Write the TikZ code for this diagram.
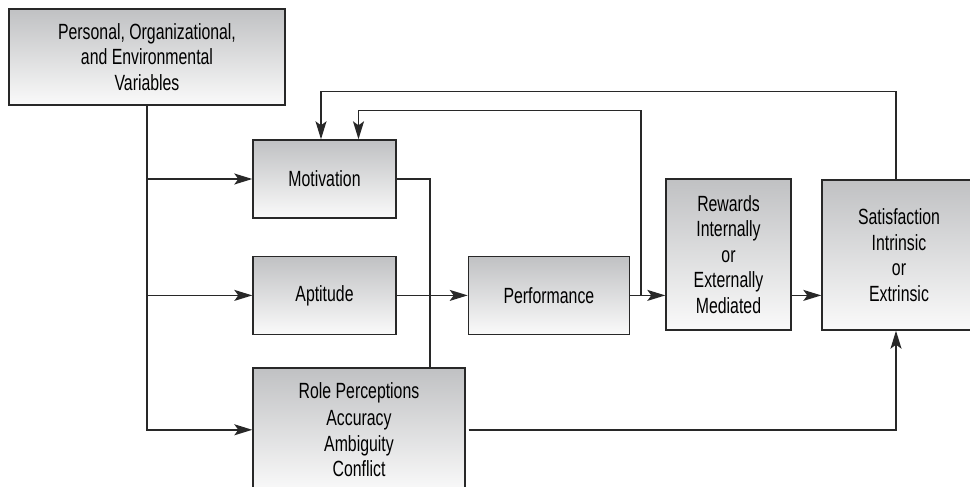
\documentclass[tikz,border=0pt]{standalone}
\usepackage{fontspec}
\setmainfont{Liberation Sans}[FakeStretch=0.72]
\usetikzlibrary{arrows.meta, positioning}
\definecolor{boxTop}{RGB}{192, 193, 195}
\definecolor{boxBottom}{RGB}{250, 250, 250}
\definecolor{lineGray}{RGB}{40, 40, 40}

\begin{document}
\begin{tikzpicture}[
    x=1pt, y=-1pt,
    font=\fontsize{22}{25.5}\selectfont,
    >={Stealth[length=18pt, width=11pt, inset=4pt]},
    node distance=37pt and 71pt,
    % Shaded Block
    block/.style={
        draw=lineGray,
        top color=boxTop,
        bottom color=boxBottom,
        rectangle,
        line width=1.4pt,
        align=center,
        inner sep=4pt,
        minimum width=143pt,
        minimum height=78pt
    },
    % Plain Connector
    link/.style={
        draw=lineGray,
        line width=1.4pt
    },
    % Arrow Connection
    arrow/.style={
        link,
        ->
    }
]
    \useasboundingbox (0,0) rectangle (970,487);

    % Left column: drivers
    \node (vars) [block, minimum width=276pt, minimum height=96pt] at (147,57) {Personal, Organizational,\\and Environmental\\Variables};
    \node (motivation) [block] at (324.5,179) {Motivation};
    \node (aptitude) [block, below=of motivation] {Aptitude};
    \node (role) [block, minimum width=212pt, minimum height=124pt, below=32pt of aptitude.south west, anchor=north west] {Role Perceptions\\[2pt]Accuracy\\Ambiguity\\Conflict};

    % Right side: outcomes
    \node (perf) [block, minimum width=161pt, right=of aptitude] {Performance};
    \node (rewards) [block, minimum width=125pt, minimum height=151pt] at (728.5,254.5) {Rewards\\Internally\\or\\Externally\\Mediated};
    \node (sat) [block, minimum width=154pt, minimum height=150pt] at (899,255) {Satisfaction\\Intrinsic\\or\\Extrinsic};

    % Connector Arrows
    \draw [arrow] (vars.south) |- (role.west);
    \draw [arrow] (vars.south |- motivation.west) -- (motivation.west);
    \draw [arrow] (vars.south |- aptitude.west) -- (aptitude.west);
    \draw [link] (motivation.east) -| ([xshift=71pt]role.north);
    \draw [arrow] (aptitude) -- (perf);
    \draw [arrow] (perf.east) -- (perf.east -| rewards.west);
    \draw [arrow] (perf.east -| rewards.east) -- (perf.east -| sat.west);
    \draw [arrow] ([xshift=3pt]role.east) -| ([xshift=-3pt]sat.south);

    % Feedback loops
    \draw [arrow] ([xshift=11pt]perf.east) -- ++(0,-185) -| ([xshift=34pt]motivation.north);
    \draw [arrow] ([xshift=-3pt]sat.north) -- ++(0,-88) -| ([xshift=-3.5pt]motivation.north);

\end{tikzpicture}
\end{document}
